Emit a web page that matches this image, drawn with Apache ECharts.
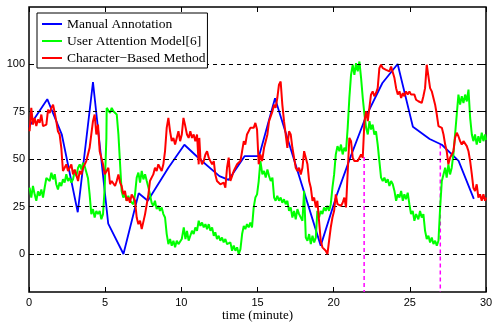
<!DOCTYPE html>
<html><head><meta charset="utf-8">
<script src="https://cdn.jsdelivr.net/npm/echarts@6/dist/echarts.min.js"></script>
<style>html,body{margin:0;padding:0;background:#fff}#c{width:492px;height:323px}</style>
</head><body><div id="c"></div>
<script>
const seriesNames=['Manual Annotation','User Attention Model[6]','Character\u2212Based Method'];
const xTicks=[0,5,10,15,20,25,30];
const yTicks=[0,25,50,75,100];
const blueT=[0,1.2,2.15,3.2,4.2,5.2,6.2,7.2,7.8,9.15,10.2,11.2,12.5,13.1,14.15,15.1,16.15,19.15,20.2,21.1,22.1,23.2,24.2,25.2,26.3,27.1,28.2,29.2];
const blueV=[67,81.5,63,22,90.5,16,0,32,28,45.4,57.5,50,41,39,51.5,51.5,82,4.4,31,51,72,90,100,67,60.5,57.5,49,29];
const greenT=[0.04,0.15,0.26,0.37,0.48,0.59,0.70,0.81,0.92,1.03,1.14,1.25,1.36,1.47,1.58,1.69,1.79,1.90,2.01,2.12,2.23,2.34,2.45,2.56,2.67,2.78,2.89,3.00,3.11,3.22,3.33,3.44,3.55,3.66,3.76,3.87,3.98,4.09,4.20,4.31,4.42,4.53,4.64,4.75,4.86,4.97,5.08,
5.10,5.21,5.32,5.43,5.54,5.65,5.76,5.87,5.98,6.08,6.19,6.30,6.41,6.52,6.63,6.74,6.85,6.96,7.07,7.18,7.29,7.40,7.51,7.62,7.73,7.84,7.94,8.05,8.16,8.27,8.38,8.49,8.60,8.71,8.82,8.93,9.04,9.15,9.26,9.37,9.48,9.59,9.70,9.81,10.03,
10.16,10.27,10.37,10.48,10.59,10.70,10.81,10.92,11.03,11.14,11.25,11.36,11.47,11.58,11.69,11.80,11.91,12.02,12.13,12.23,12.34,12.45,12.56,12.67,12.78,12.89,13.00,13.11,13.22,13.33,13.44,13.55,13.66,13.77,13.88,13.99,14.10,14.20,14.31,14.42,14.53,14.64,14.75,14.86,14.97,15.08,15.19,
15.32,15.43,15.54,15.65,15.76,15.87,15.98,16.09,16.19,16.30,16.41,16.52,16.63,16.74,16.85,16.96,17.07,17.18,17.29,17.40,17.51,17.62,17.73,17.84,17.95,18.06,18.17,18.28,18.39,18.50,18.61,18.72,18.83,18.93,19.04,19.15,19.26,19.37,19.48,19.59,19.70,19.81,19.92,20.03,20.14,20.25,
20.38,20.48,20.59,20.70,20.81,20.92,21.03,21.14,21.25,21.36,21.47,21.58,21.69,21.80,21.91,22.02,22.13,22.24,22.35,22.45,22.56,22.67,22.78,22.89,23.00,23.11,23.22,23.33,23.44,23.55,23.66,23.77,23.88,23.99,24.10,24.21,24.32,24.43,24.54,24.64,24.75,24.86,24.97,25.08,25.19,25.30,25.41,
25.56,25.67,25.78,25.89,26.00,26.11,26.22,26.33,26.44,26.55,26.66,26.77,26.88,26.99,27.10,27.21,27.32,27.42,27.53,27.64,27.75,27.86,27.97,28.08,28.19,28.30,28.41,28.52,28.63,28.74,28.85,28.96,29.07,29.17,29.28,29.39,29.50,29.61,29.72,29.83,29.94,30.00];
const greenV=[34.9,29.7,35.8,31.4,28.0,33.0,30.6,34.0,29.7,35.0,40.0,41.0,38.4,42.8,39.3,42.0,36.7,34.0,37.6,35.8,39.3,37.6,42.0,38.4,40.0,37.6,39.3,43.7,41.0,45.4,47.2,44.5,48.0,46.0,45.4,40.0,31.4,21.0,23.6,19.2,22.7,21.0,22.7,18.3,21.0,35.0,61.0,
76.9,77.7,74.2,76.9,75.1,76.0,73.4,62.9,47.2,33.2,29.7,31.4,28.0,30.6,28.0,28.8,26.2,31.4,40.2,42.8,37.6,43.7,39.3,42.0,38.4,35.0,31.4,27.0,25.3,28.0,23.6,25.3,22.7,24.5,21.0,19.2,10.5,5.2,7.9,4.4,7.0,3.5,7.0,5.2,7.9,
14.0,7.9,12.2,7.0,9.6,12.2,10.5,14.0,12.2,17.5,14.8,16.6,14.0,15.7,13.1,15.7,12.2,14.0,9.6,11.4,7.9,9.6,7.0,8.7,6.1,7.9,5.2,4.4,6.1,1.7,4.4,1.7,3.5,0.0,2.6,10.5,14.8,13.1,15.7,14.0,16.6,14.0,24.5,29.7,31.4,38.4,48.9,
41.9,43.7,40.2,44.5,41.0,38.4,40.2,29.7,28.0,30.6,28.0,29.7,27.0,28.8,26.2,28.0,22.7,24.5,19.2,22.7,18.3,23.6,21.0,21.8,17.5,33.2,8.7,7.0,10.5,5.2,9.6,6.1,8.7,22.7,19.2,22.7,21.0,24.5,22.7,25.3,22.7,26.2,34.9,41.9,52.4,56.8,
54.1,57.6,52.4,55.9,54.1,66.4,82.1,94.3,99.6,94.3,100.4,96.1,101.3,92.6,82.1,73.4,66.4,62.9,69.9,65.5,68.1,62.9,64.6,57.6,48.9,40.2,38.4,40.2,37.6,39.3,35.8,38.4,36.7,33.2,28.0,31.4,29.7,33.2,28.0,31.4,28.8,32.3,26.2,21.0,22.7,17.5,21.0,
18.3,22.7,19.2,21.0,12.2,7.9,9.6,6.1,8.7,5.2,7.0,4.4,7.0,24.5,38.4,41.9,45.4,40.2,47.2,41.9,45.4,52.4,62.9,73.4,83.9,78.6,83.0,79.5,83.9,80.3,86.5,71.6,62.9,59.4,62.9,57.6,62.0,58.5,63.8,59.4,62.9,60.0];
const redT=[0.04,0.15,0.26,0.37,0.48,0.59,0.70,0.81,0.92,1.03,1.14,1.25,1.36,1.47,1.58,1.69,1.79,1.90,2.01,2.12,2.23,2.34,2.45,2.56,2.67,2.78,2.89,3.00,3.11,3.22,3.33,3.44,3.55,3.66,3.76,3.87,3.98,4.09,4.20,4.31,4.42,4.53,4.64,4.75,4.86,4.97,
5.10,5.21,5.32,5.43,5.54,5.65,5.76,5.87,5.98,6.08,6.19,6.30,6.41,6.52,6.63,6.74,6.85,6.96,7.07,7.18,7.29,7.40,7.51,7.62,7.73,7.84,7.94,8.05,8.16,8.27,8.38,8.49,8.60,8.71,8.82,8.93,9.04,9.15,9.26,9.37,9.48,9.59,9.70,9.81,9.92,10.03,10.14,10.24,
10.37,10.48,10.59,10.70,10.81,10.92,11.03,11.14,11.18,11.25,11.36,11.47,11.58,11.69,11.80,11.91,12.02,12.13,12.23,12.34,12.45,12.56,12.67,12.78,12.89,13.00,13.11,13.22,13.33,13.44,13.55,13.66,13.77,13.88,13.99,14.10,14.20,14.31,14.42,14.53,14.64,14.75,14.86,14.97,15.08,15.19,15.30,
15.43,15.54,15.65,15.76,15.87,15.98,16.09,16.19,16.30,16.41,16.52,16.63,16.74,16.85,16.96,17.07,17.18,17.29,17.40,17.51,17.62,17.73,17.84,17.95,18.06,18.17,18.28,18.39,18.50,18.61,18.72,18.83,18.93,19.04,19.15,19.26,19.37,19.48,19.59,19.70,19.81,19.92,20.03,20.14,20.25,
20.38,20.48,20.59,20.70,20.81,20.92,21.03,21.14,21.25,21.36,21.47,21.58,21.69,21.80,21.91,22.02,22.13,22.24,22.35,22.45,22.56,22.67,22.78,22.89,23.00,23.11,23.22,23.33,23.44,23.55,23.66,23.77,23.88,23.99,24.10,24.21,24.32,24.43,24.54,24.64,24.75,24.86,24.97,25.08,25.19,25.30,25.41,
25.56,25.67,25.78,25.89,26.00,26.11,26.22,26.33,26.44,26.55,26.66,26.77,26.88,26.99,27.10,27.21,27.32,27.42,27.53,27.64,27.75,27.86,27.97,28.08,28.19,28.30,28.41,28.52,28.63,28.74,28.85,28.96,29.07,29.17,29.28,29.39,29.50,29.61,29.72,29.83,29.94,30.00];
const redV=[64.6,76.9,68.1,71.6,67.3,70.8,69.0,73.4,67.3,66.4,68.1,76.0,74.2,76.9,78.6,74.2,69.9,64.6,62.9,55.9,43.7,45.4,47.2,43.7,45.4,47.2,41.9,44.5,43.7,38.4,43.7,41.9,45.4,47.2,48.9,52.4,55.9,62.9,69.9,73.4,62.9,68.1,54.1,50.7,47.2,41.9,
42.8,45.4,36.7,38.4,37.6,35.8,38.4,41.9,37.6,35.8,31.4,33.2,28.0,29.7,27.0,31.4,29.7,28.0,19.2,15.7,17.5,13.1,14.0,21.0,26.2,31.4,38.4,40.2,41.9,45.4,43.7,47.2,45.4,43.7,47.2,54.1,66.4,71.6,64.6,59.4,61.1,57.6,61.1,64.6,59.4,62.9,71.6,68.1,
62.9,61.1,64.6,61.1,62.9,59.4,62.9,47.2,61.1,50.7,47.2,48.9,52.4,54.1,50.7,48.9,47.2,48.9,41.9,38.4,39.3,36.7,35.8,37.6,34.9,45.4,50.7,38.4,41.0,43.7,42.8,47.2,48.0,48.9,54.1,59.4,57.6,62.9,64.6,66.4,65.5,66.4,69.0,65.5,47.2,52.4,48.9,
55.9,59.4,62.9,69.9,69.0,75.1,78.6,76.9,82.1,89.1,90.8,78.6,69.9,62.9,55.9,64.6,62.9,55.9,50.7,45.4,43.7,45.4,41.9,45.4,54.1,55.0,47.2,38.4,34.9,28.0,29.7,24.5,28.0,17.5,7.0,3.5,2.6,1.7,0.0,7.0,14.0,19.2,22.7,31.4,26.2,
26.2,25.3,27.0,29.7,24.5,25.3,61.1,59.4,50.7,48.9,49.8,48.9,50.7,52.4,50.7,69.9,75.1,69.9,69.9,83.9,85.6,83.0,84.7,87.3,97.8,99.6,97.8,98.7,96.9,97.8,96.1,98.7,97.8,92.6,87.3,83.9,85.6,82.1,84.7,83.0,85.6,83.9,85.6,83.9,83.0,83.9,81.2,
80.4,81.2,79.5,83.0,87.3,99.6,99.6,87.3,85.6,86.5,78.6,73.4,67.3,68.1,66.4,62.9,57.6,54.1,47.2,50.7,52.4,54.1,61.1,63.8,62.0,59.4,57.6,59.4,60.3,56.8,54.1,48.9,41.9,34.9,33.2,36.7,29.7,31.4,28.0,31.4,28.0,29.7];
const markerT=[22,27];
const markerTop=[51,57.6];
const yMin=-20, yMax=130, xMin=0, xMax=30;

const zip=(t,v)=>t.map((x,i)=>[x,v[i]]);
const chart=echarts.init(document.getElementById('c'),null,{renderer:'canvas'});
const lblFont={fontFamily:'Liberation Sans, Arial, sans-serif',fontSize:11,color:'#000'};
const lineBase={type:'line',symbol:'none',showSymbol:false,emphasis:{disabled:true},silent:true};
const markerSeries=markerT.map((t,i)=>Object.assign({},lineBase,{z:2,
  data:[[t,markerTop[i]],[t,yMin]],lineStyle:{color:'#ff00ff',width:1.5,type:[4,3]}}));
chart.setOption({
  animation:false,
  backgroundColor:'#fff',
  grid:{left:29,right:6,top:7,bottom:31,show:true,borderColor:'#000',borderWidth:1.5,
    backgroundColor:'rgba(0,0,0,0)',containLabel:false,outerBoundsMode:'none'},
  legend:{orient:'vertical',left:37,top:13,padding:[3,2,2,5],itemGap:1,itemWidth:20,itemHeight:2,icon:'rect',
    backgroundColor:'#fff',borderColor:'#000',borderWidth:1,z:20,
    textStyle:{fontFamily:'Liberation Serif, Times New Roman, serif',fontSize:13.5,color:'#000',lineHeight:16},
    data:seriesNames},
  xAxis:[{type:'value',min:xMin,max:xMax,interval:5,position:'bottom',
      axisLine:{show:false,onZero:false},axisTick:{inside:true,length:5,lineStyle:{color:'#000'}},
      axisLabel:Object.assign({margin:5},lblFont),splitLine:{show:false},
      name:'time (minute)',nameLocation:'middle',nameGap:17,nameMoveOverlap:false,
      nameTextStyle:{fontFamily:'Liberation Serif, Times New Roman, serif',fontSize:13,color:'#000'}},
    {type:'value',min:xMin,max:xMax,interval:5,position:'top',
      axisLine:{show:false,onZero:false},axisTick:{inside:true,length:5,lineStyle:{color:'#000'}},
      axisLabel:{show:false},splitLine:{show:false}}],
  yAxis:[{type:'value',min:yMin,max:yMax,position:'left',
      axisLine:{show:false,onZero:false},axisTick:{inside:true,length:5,customValues:yTicks,lineStyle:{color:'#000'}},
      axisLabel:Object.assign({margin:4,customValues:yTicks},lblFont),splitLine:{show:false}},
    {type:'value',min:yMin,max:yMax,position:'right',
      axisLine:{show:false,onZero:false},axisTick:{inside:true,length:5,customValues:yTicks,lineStyle:{color:'#000'}},
      axisLabel:{show:false},splitLine:{show:false}}],
  series:[
    Object.assign({},lineBase,{name:'grid',data:[],z:1,
      markLine:{silent:true,symbol:'none',label:{show:false},
        lineStyle:{color:'#000',width:1,type:[4,4]},
        data:yTicks.map(v=>({yAxis:v}))}}),
    Object.assign({},lineBase,{name:seriesNames[0],data:zip(blueT,blueV),z:3,
      lineStyle:{color:'#0000ff',width:1.8},itemStyle:{color:'#0000ff'}}),
    Object.assign({},lineBase,{name:seriesNames[1],data:zip(greenT,greenV),z:4,
      lineStyle:{color:'#00ff00',width:2},itemStyle:{color:'#00ff00'}}),
    Object.assign({},lineBase,{name:seriesNames[2],data:zip(redT,redV),z:5,
      lineStyle:{color:'#ff0000',width:2},itemStyle:{color:'#ff0000'}}),
    ...markerSeries
  ]
});
</script></body></html>
